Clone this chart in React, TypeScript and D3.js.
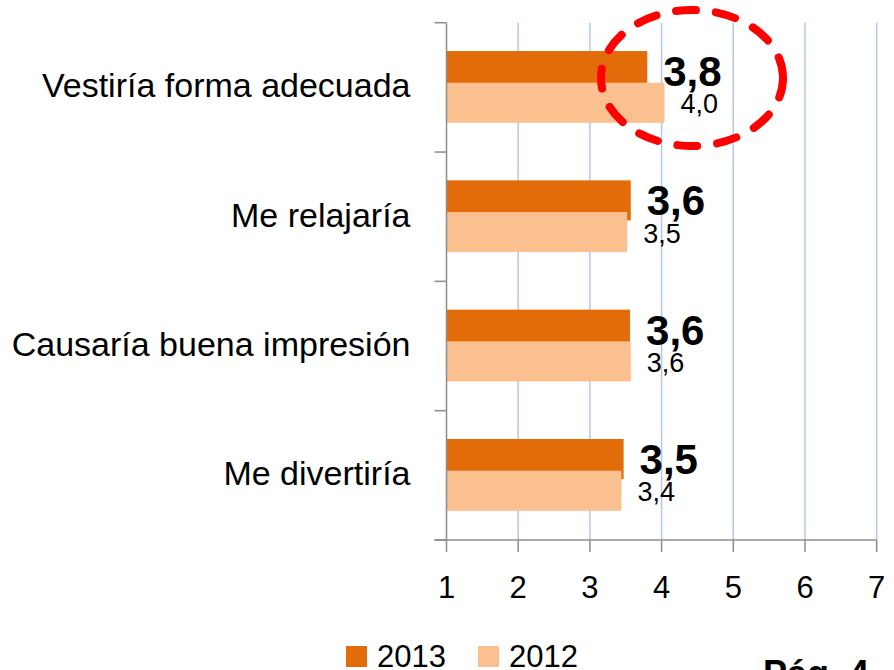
import * as d3 from 'd3';
import { useEffect, useRef } from 'react';

const categories = ['Vestiría forma adecuada', 'Me relajaría', 'Causaría buena impresión', 'Me divertiría'];
const values2013 = [3.8, 3.57, 3.56, 3.47];
const values2012 = [4.04, 3.52, 3.57, 3.44];
const seriesNames = ['2013', '2012'];
const xTicks = [1, 2, 3, 4, 5, 6, 7];

const colors = ['#E36C0A', '#FAC090'];
const font = "'Liberation Sans', Arial, sans-serif";

const fmt = (v: number) => d3.format('.1f')(v).replace('.', ',');

const App = () => {
    const ref = useRef<SVGSVGElement>(null);

    useEffect(() => {
        const svg = d3.select(ref.current);
        svg.selectAll('*').remove();

        const left = 446.5, right = 876.7, top = 22.7, bottom = 540;

        // x scale from 1 to 7
        const x = d3.scaleLinear().domain([1, 7]).range([left, right]);

        // one band for each category
        const y = d3.scaleBand<string>().domain(categories).range([top, bottom]).padding(0);
        const bw = y.bandwidth();
        const barH = bw * 0.31;

        // grid lines
        svg.append('g')
            .selectAll('line')
            .data(xTicks.slice(1))
            .enter().append('line')
            .attr('x1', d => x(d)).attr('x2', d => x(d))
            .attr('y1', top).attr('y2', bottom)
            .attr('stroke', '#B4C7E7')
            .attr('stroke-width', 1.5);

        // bars
        const series = [values2013, values2012];
        const offsets = [0.219, 0.464];
        series.forEach((vals, si) => {
            svg.append('g')
                .selectAll('rect')
                .data(categories)
                .enter().append('rect')
                .attr('x', x(1))
                .attr('y', (c) => (y(c) as number) + bw * offsets[si])
                .attr('width', (c, i) => x(vals[i]) - x(1))
                .attr('height', barH)
                .attr('fill', colors[si]);
        });

        // value labels
        svg.append('g')
            .selectAll('text')
            .data(categories)
            .enter().append('text')
            .attr('x', (c, i) => x(values2013[i]) + 16)
            .attr('y', c => (y(c) as number) + bw * 0.49)
            .attr('font-family', font)
            .attr('font-weight', 'bold')
            .attr('font-size', 42)
            .attr('fill', '#000')
            .text((c, i) => fmt(values2013[i]));

        svg.append('g')
            .selectAll('text')
            .data(categories)
            .enter().append('text')
            .attr('x', (c, i) => x(values2012[i]) + 16)
            .attr('y', c => (y(c) as number) + bw * 0.70)
            .attr('font-family', font)
            .attr('font-size', 27)
            .attr('fill', '#000')
            .text((c, i) => fmt(values2012[i]));

        // y axis
        const yAxis = svg.append('g').attr('transform', `translate(${left},0)`);
        yAxis.append('line')
            .attr('x1', 0).attr('x2', 0).attr('y1', top).attr('y2', bottom)
            .attr('stroke', '#8C8C8C').attr('stroke-width', 1.5);
        yAxis.selectAll('line.tick')
            .data([...categories.map(c => y(c) as number), bottom])
            .enter().append('line')
            .attr('class', 'tick')
            .attr('x1', -12).attr('x2', 0)
            .attr('y1', d => d).attr('y2', d => d)
            .attr('stroke', '#8C8C8C').attr('stroke-width', 1.5);
        yAxis.selectAll('text')
            .data(categories)
            .enter().append('text')
            .attr('x', -36)
            .attr('y', c => (y(c) as number) + bw / 2 + 10)
            .attr('text-anchor', 'end')
            .attr('font-family', font)
            .attr('font-size', 34)
            .attr('fill', '#000')
            .text(c => c);

        // x axis
        const xAxis = svg.append('g').attr('transform', `translate(0,${bottom})`);
        xAxis.append('line')
            .attr('x1', left - 12).attr('x2', right).attr('y1', 0).attr('y2', 0)
            .attr('stroke', '#8C8C8C').attr('stroke-width', 1.5);
        xAxis.selectAll('line.tick')
            .data(xTicks)
            .enter().append('line')
            .attr('class', 'tick')
            .attr('x1', d => x(d)).attr('x2', d => x(d))
            .attr('y1', 0).attr('y2', 12)
            .attr('stroke', '#8C8C8C').attr('stroke-width', 1.5);
        xAxis.selectAll('text')
            .data(xTicks)
            .enter().append('text')
            .attr('x', d => x(d))
            .attr('y', 58)
            .attr('text-anchor', 'middle')
            .attr('font-family', font)
            .attr('font-size', 31)
            .attr('fill', '#000')
            .text(d => d);

        // legend
        const legendX = [346, 478];
        seriesNames.forEach((name, i) => {
            const g = svg.append('g').attr('transform', `translate(${legendX[i]},646)`);
            g.append('rect').attr('width', 21).attr('height', 21).attr('fill', colors[i]);
            g.append('text')
                .attr('x', 31).attr('y', 21)
                .attr('font-family', font)
                .attr('font-size', 31)
                .attr('fill', '#000')
                .text(name);
        });

        // red dashed ellipse around the first label
        svg.append('ellipse')
            .attr('cx', 692).attr('cy', 78)
            .attr('rx', 91).attr('ry', 68)
            .attr('fill', 'none')
            .attr('stroke', '#FF0000')
            .attr('stroke-width', 8)
            .attr('stroke-linecap', 'round')
            .attr('stroke-dasharray', '20 20');

        // page number, cut off at the bottom
        svg.append('text')
            .attr('x', 763).attr('y', 686)
            .attr('font-family', font)
            .attr('font-weight', 'bold')
            .attr('font-size', 36)
            .attr('fill', '#000')
            .text('Pág. 4');
    }, []);

    return (
        <svg ref={ref} width={894} height={670}
            style={{ position: 'absolute', left: 0, top: 0, background: 'white' }} />
    );
};

export default App;
